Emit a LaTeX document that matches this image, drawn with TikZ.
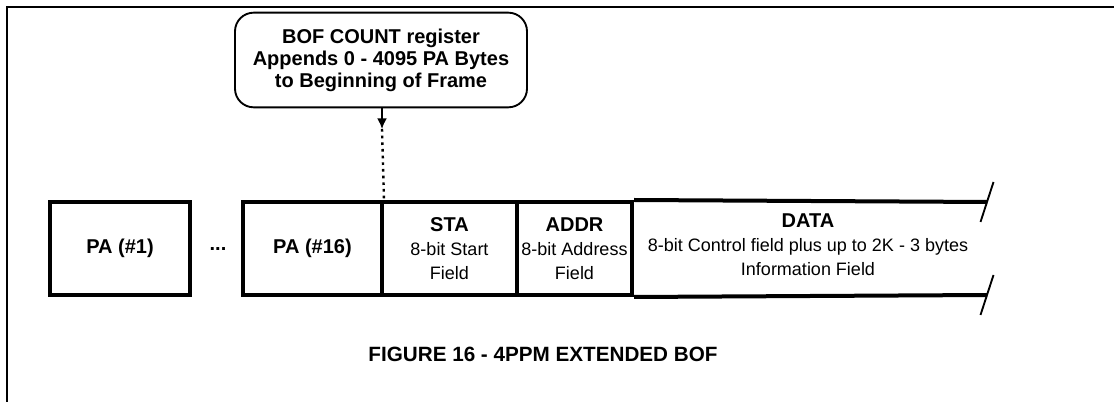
\documentclass[tikz,border=0pt]{standalone}
\usepackage{fontspec}
\setmainfont{Liberation Sans}
\usetikzlibrary{arrows.meta}

\begin{document}
\begin{tikzpicture}[x=0.75pt, y=-0.75pt,
	field/.style={draw, line width=3pt, inner sep=0pt, align=center, minimum height=69.75pt, font=\fontsize{13.5}{18}\selectfont},
	label/.style={align=center, inner sep=0pt, font=\fontsize{13.5}{18}\selectfont},
	callout/.style={draw, line width=1.4pt, rounded corners=14pt, align=center, minimum width=219pt, minimum height=71pt, font=\bfseries\fontsize{15}{16.5}\selectfont}]
\useasboundingbox (0,0) rectangle (1114,402);
\draw [line width=2.2pt] (7,402) -- (7,7) -- (1114,7);
	\node [callout] (bof) at (381,60){BOF COUNT register\\Appends 0 - 4095 PA Bytes\\to Beginning of Frame};
	\node [field, minimum width=105pt] (pa1) at (120,248.5){\bfseries\fontsize{15}{18}\selectfont PA (\#1)};
	\node [anchor=base, inner sep=0pt, font=\bfseries\fontsize{15}{18}\selectfont] (dots) at (218,250.5){...};
	\node [field, minimum width=104.25pt] (pa16) at (312.5,248.5){\bfseries\fontsize{15}{18}\selectfont PA (\#16)};
	\node [field, minimum width=101.25pt] (sta) at (449.5,248.5){{\bfseries\fontsize{15}{18}\selectfont STA}\\8-bit Start\\Field};
	\node [field, minimum width=86.25pt] (addr) at (574.5,248.5){{\bfseries\fontsize{15}{18}\selectfont ADDR}\\8-bit Address\\Field};
	\node [label] (data) at (808,245){{\bfseries\fontsize{15}{18}\selectfont DATA}\\8-bit Control field plus up to 2K - 3 bytes\\Information Field};
	\node [font=\bfseries\fontsize{15.5}{18}\selectfont] (caption) at (543,354){FIGURE 16 - 4PPM EXTENDED BOF};
	\coordinate (tip) at (382,129);
	\coordinate (dtop) at (987,202);
	\coordinate (dbot) at (987,295);
\draw [line width=1.3pt, -{Latex[length=8pt, width=7.5pt]}] (bof.south -| tip) -- (tip);
\draw [line width=1.8pt, dash pattern=on 2pt off 3pt] (tip) -- (pa16.north east);
\foreach \from/\to in {addr.north east/dtop, addr.south east/dbot}
\draw [line width=3pt] (\from) -- (\to);
\foreach \end in {dtop, dbot}
\draw [line width=1.4pt] (\end) ++(6.5,-20) -- ++(-13,40);
\end{tikzpicture}
\end{document}
